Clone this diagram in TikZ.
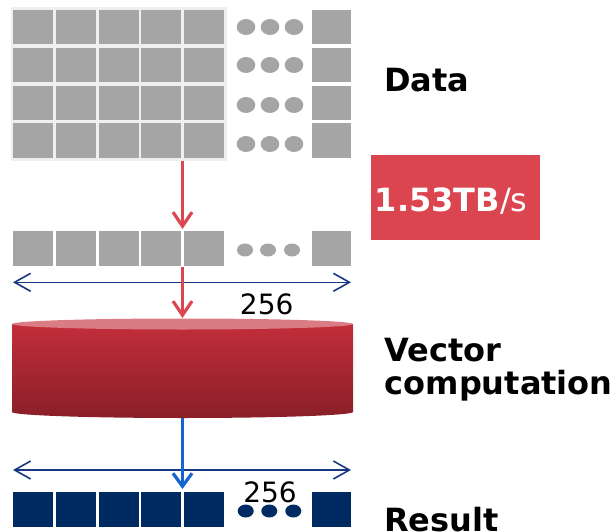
\documentclass[tikz,border=0pt]{standalone}
\usepackage{fontspec}
\setmainfont{DejaVu Sans}
\usetikzlibrary{arrows.meta}

\definecolor{cellgray}{HTML}{A5A5A5}
\definecolor{framegray}{HTML}{EFEFEF}
\definecolor{navy}{HTML}{002A62}
\definecolor{dimblue}{HTML}{173882}
\definecolor{arrowred}{HTML}{DC4650}
\definecolor{boxred}{HTML}{DB4550}
\definecolor{flowblue}{HTML}{1565D0}
\definecolor{cyltop}{HTML}{C22E3A}
\definecolor{cylbot}{HTML}{891F28}
\definecolor{cylcap}{HTML}{D97C84}

\tikzset{
  gcell/.style={fill=cellgray, inner sep=0pt, minimum width=40pt, minimum height=34.5pt},
  rcell/.style={gcell, minimum width=39.5pt},
  ncell/.style={fill=navy, inner sep=0pt, minimum width=40pt, minimum height=35pt},
  redarrow/.style={draw=arrowred, line width=3.2pt, -{Straight Barb[length=14pt,width=19pt]}},
  bluearrow/.style={draw=flowblue, line width=3.2pt, -{Straight Barb[length=13pt,width=19pt]}},
  dimline/.style={draw=dimblue, line width=1.6pt,
    {Straight Barb[length=16pt,width=18pt]}-{Straight Barb[length=16pt,width=18pt]}},
  biglabel/.style={font=\fontsize{32}{34}\selectfont\bfseries, inner sep=0pt, anchor=base west},
  countlabel/.style={font=\fontsize{28}{30}\selectfont, inner sep=0pt}
}

\begin{document}
\begin{tikzpicture}[x=1pt,y=1pt]
\useasboundingbox (0,0) rectangle (615,531);

% ---- input matrix ----
\node[fill=framegray, inner sep=0pt, minimum width=215.5pt, minimum height=153.5pt]
  (frame) at (118.75,446.75) {};
\foreach \r/\y in {1/503.75,2/466,3/428.2,4/390.4}{
  \foreach \c/\x in {1/33.3,2/76,3/118.7,4/161.4,5/204.1}{
    \node[gcell] (m\r\c) at (\x,\y) {};
  }
  \node[rcell] (m\r n) at (331.3,\y) {};
}
\foreach \y in {504,466,426,387}{
  \foreach \x in {246,270,294}{
    \fill[cellgray] (\x,\y) ellipse [x radius=9.3, y radius=8];
  }
}

% ---- loaded vector ----
\foreach \c/\x in {1/33.3,2/76,3/118.7,4/161.4,5/204.1}{
  \node[gcell, minimum height=34.7pt] (v\c) at (\x,282.7) {};
}
\node[rcell, minimum height=34.7pt] (vn) at (331.3,282.7) {};
\foreach \x in {245,268,292}{
  \fill[cellgray] (\x,281) ellipse [x radius=8, y radius=6.5];
}

% ---- result vector ----
\foreach \c/\x in {1/33.3,2/76,3/118.7,4/161.4,5/204.1}{
  \node[ncell] (o\c) at (\x,21.8) {};
}
\node[ncell, minimum width=39.5pt] (on) at (331.3,21.8) {};
\foreach \x in {245.7,269.3,293.3}{
  \fill[navy] (\x,20) ellipse [x radius=8, y radius=6.5];
}

% ---- vector unit ----
\shade[top color=cyltop, bottom color=cylbot]
  (12,207) -- (12,119) arc[start angle=180, end angle=360, x radius=170.5, y radius=6]
  -- (353,207) -- cycle;
\fill[cylcap] (182.5,207) ellipse [x radius=170.5, y radius=5.5];

% ---- width markers ----
\coordinate (w1l) at (13,248.7);
\coordinate (w1r) at (351,248.7);
\draw[dimline] (w1l) -- (w1r);
\node[countlabel] (n1) at (266.7,226.5) {256};

\coordinate (w2l) at (13,61);
\coordinate (w2r) at (351,61);
\draw[dimline] (w2l) -- (w2r);
\node[countlabel] (n2) at (270,38.5) {256};

% ---- data flow ----
\coordinate (load) at (182.5,370);
\coordinate (loadend) at (182.5,302);
\draw[redarrow] (load) -- (loadend);
\coordinate (feed) at (182.5,264);
\coordinate (feedend) at (182.5,213);
\draw[redarrow] (feed) -- (feedend);
\coordinate (emit) at (182.5,113);
\coordinate (emitend) at (182.5,42);
\draw[bluearrow] (emit) -- (emitend);

% ---- bandwidth badge ----
\node[fill=boxred, inner sep=0pt, minimum width=168.5pt, minimum height=85pt,
      text height=27pt, text depth=0pt,
      text=white, font=\fontsize{32}{34}\selectfont]
  (rate) at (455.25,333.5) {\hspace*{-8pt}\textbf{1.53TB}/s};

% ---- captions ----
\node[biglabel] (data) at (384,439.3) {Data};
\node[biglabel] (vec1) at (384.5,169.3) {Vector};
\node[biglabel] (vec2) at (384.5,137) {computation};
\node[biglabel] (res) at (384,0) {Result};
\end{tikzpicture}
\end{document}
